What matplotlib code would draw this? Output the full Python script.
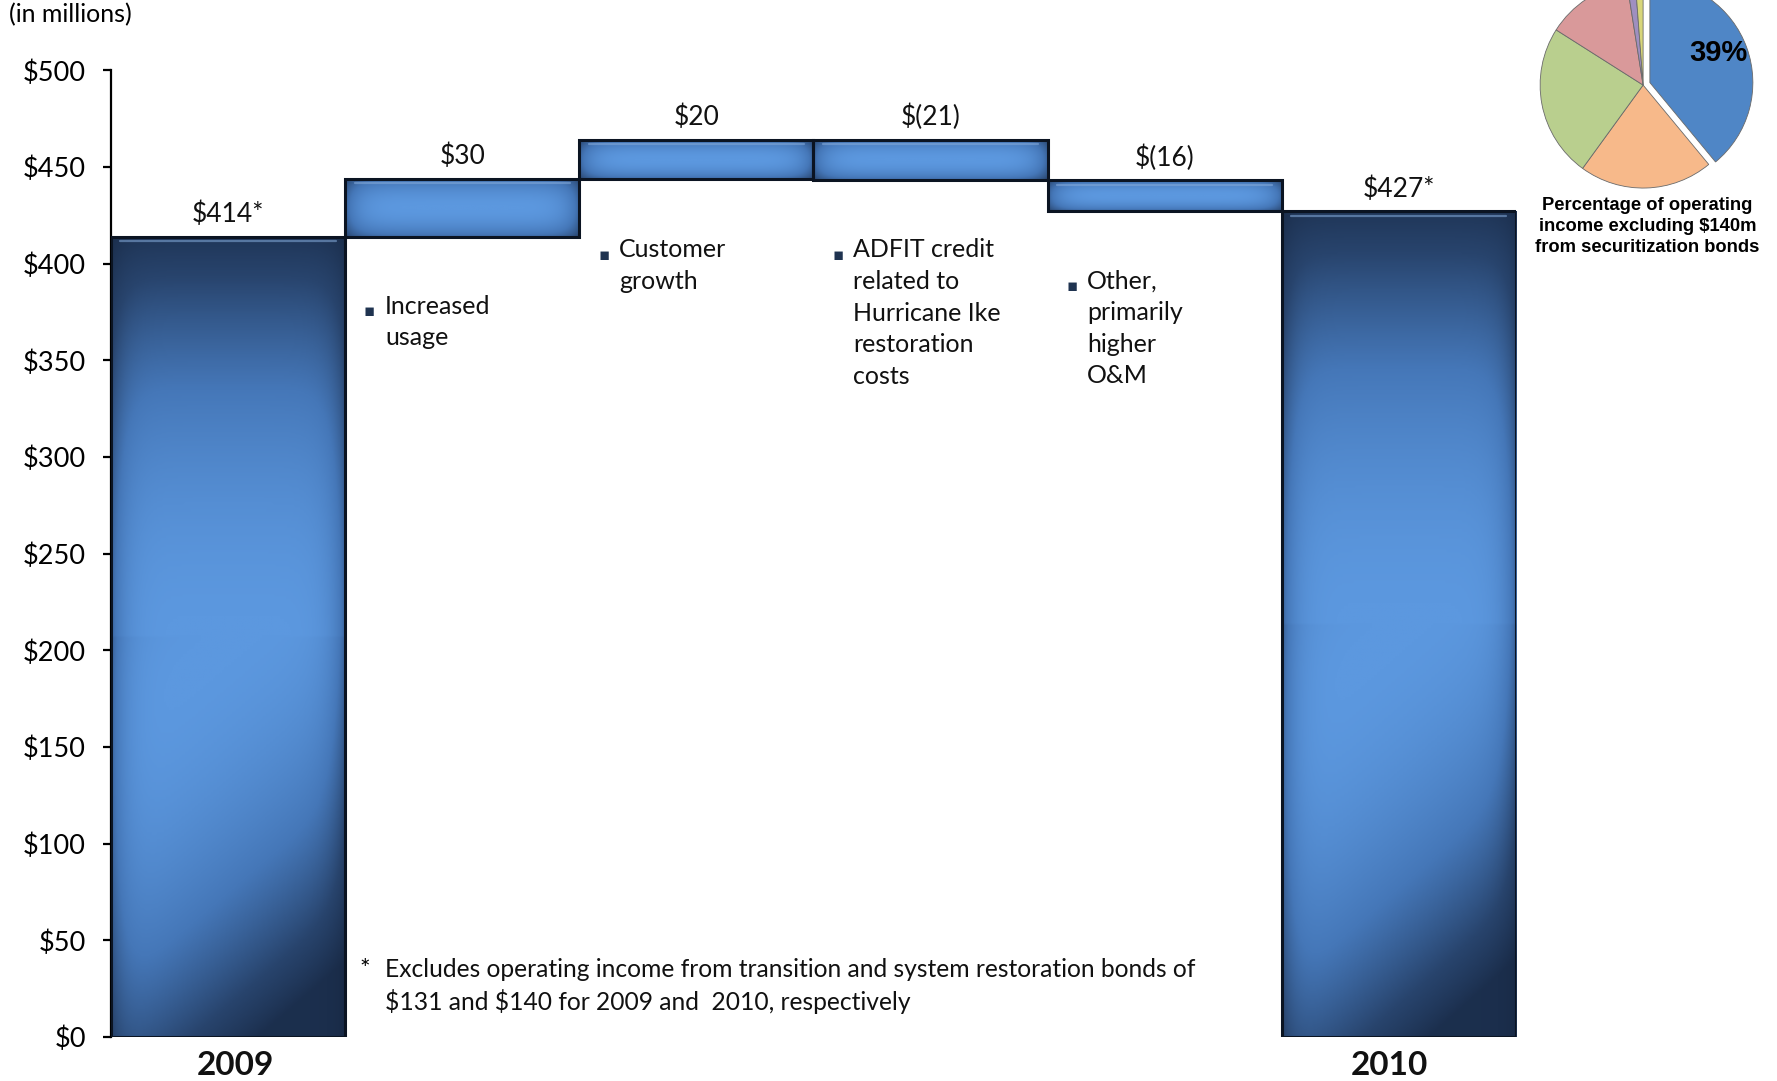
import matplotlib
matplotlib.use('Agg')
import matplotlib.pyplot as plt
import numpy as np
from matplotlib.colors import LinearSegmentedColormap

plt.rcParams['font.family'] = ['Lato', 'DejaVu Sans']

# waterfall data (in millions)
categories = ['2009', 'usage', 'growth', 'adfit', 'other', '2010']
deltas = [414, 30, 20, -21, -16, 427]
value_labels = ['\\$414*', '\\$30', '\\$20', '\\$(21)', '\\$(16)', '\\$427*']
year_labels = {0: '2009', 5: '2010'}
notes = {
    1: 'Increased\nusage',
    2: 'Customer\ngrowth',
    3: 'ADFIT credit\nrelated to\nHurricane Ike\nrestoration\ncosts',
    4: 'Other,\nprimarily\nhigher\nO&M',
}
note_tops = {1: 380, 2: 409, 3: 409, 4: 393}

# pie data
pie_shares = [39, 21, 24, 13.5, 1.3, 1.2]
pie_colors = ['#4f86c6', '#f7b98a', '#b9cf8e', '#d9999a', '#9f8fc0', '#d8d67a']

# compute bottoms / heights
bottoms, heights = [], []
running = 0
for i, d in enumerate(deltas):
    if i == 0 or i == len(deltas) - 1:
        bottoms.append(0)
        heights.append(d)
        running = d
    else:
        if d >= 0:
            bottoms.append(running)
        else:
            bottoms.append(running + d)
        heights.append(abs(d))
        running += d

fig = plt.figure(figsize=(17.77, 10.81), dpi=100)
ax = fig.add_axes([0.0625, 0.0407, 0.7905, 0.8943])

x = np.arange(len(categories))
bars = ax.bar(x, heights, bottom=bottoms, width=1.0, color='none',
              edgecolor='#0b1422', linewidth=2.2, zorder=3)

cmap = LinearSegmentedColormap.from_list(
    'bar', ['#15243d', '#28446d', '#4577b8', '#5c98df'])

for i, b in enumerate(bars):
    x0, y0 = b.get_x(), b.get_y()
    w, h = b.get_width(), b.get_height()
    big = i in (0, len(bars) - 1)
    xs = np.linspace(0, 1, 200)
    ys = np.linspace(0, 1, 300)
    X, Y = np.meshgrid(xs, ys)
    hor = 1 - 0.45 * np.abs(2 * X - 1) ** 8
    if big:
        # light band tilted: lower-left stays lighter, lower-right darker
        Yp = np.where(Y < 0.5, Y + 0.25 * (0.5 - X), Y)
        ver = 0.12 + 0.88 * np.sin(np.pi * np.clip(Yp * 0.95 + 0.03, 0, 1)) ** 0.9
    else:
        ver = 0.55 + 0.45 * np.sin(np.pi * Y) ** 0.7
    img = np.clip(hor * ver, 0, 1)
    im = ax.imshow(img, extent=(x0, x0 + w, y0, y0 + h), origin='lower',
                   cmap=cmap, vmin=0, vmax=1, aspect='auto', zorder=2,
                   interpolation='bilinear')
    im.set_clip_path(b)
    # thin bevel highlight under the top edge
    ax.plot([x0 + 0.04, x0 + w - 0.04], [y0 + h - 2.2, y0 + h - 2.2],
            color='#86acdc', lw=1.6, alpha=0.55, zorder=2.5,
            solid_capstyle='round')

for i, lab in enumerate(value_labels):
    top = bottoms[i] + heights[i]
    ax.text(x[i], top + 5, lab, ha='center', va='bottom', fontsize=19,
            color='#111111')

for i, txt in notes.items():
    ax.text(x[i] - 0.42, note_tops[i] - 4.5, '\u25aa', ha='left', va='center',
            fontsize=12, color='#1f3350', family=['DejaVu Sans'])
    ax.text(x[i] - 0.33, note_tops[i] + 4, txt, ha='left', va='top',
            fontsize=18, color='#111111', linespacing=1.45)

year_shift = {0: 0.03, 5: -0.04}
for i, yr in year_labels.items():
    ax.text(x[i] + year_shift[i], -7, yr, ha='center', va='top', fontsize=24,
            fontweight='bold', color='#111111')

ax.text(0.56, 35, '*', ha='left', va='center', fontsize=18)
ax.text(0.67, 26.5, 'Excludes operating income from transition and system restoration bonds of\n'
        '\\$131 and \\$140 for 2009 and  2010, respectively',
        ha='left', va='center', fontsize=17.7, color='#111111', linespacing=1.4)

ax.set_xlim(-0.5, 5.5)
ax.set_ylim(0, 500)
ax.set_yticks(np.arange(0, 501, 50))
ax.set_yticklabels(['\\$%d' % v for v in np.arange(0, 501, 50)], fontsize=19.5)
ax.set_xticks([])
for s in ['top', 'right', 'bottom']:
    ax.spines[s].set_visible(False)
ax.spines['left'].set_linewidth(1.6)
ax.tick_params(axis='y', length=6, width=1.6, pad=12)

fig.text(0.005, 0.986, '(in millions)', ha='left', va='center', fontsize=18)

# pie inset
pax = fig.add_axes([0.8667, 0.826, 0.1159, 0.1906])
wedges, _ = pax.pie(pie_shares, colors=pie_colors, startangle=90,
                    counterclock=False, explode=[0.07, 0, 0, 0, 0, 0],
                    wedgeprops=dict(edgecolor='#6a6a6a', linewidth=0.6))
for w in wedges:
    w.set_clip_on(False)
pax.set_xlim(-1, 1)
pax.set_ylim(-1, 1)
pax.set_aspect('equal')
pax.axis('off')
fig.text(0.967, 0.951, '39%', ha='center', va='center', fontsize=21,
         fontweight='bold', family=['Liberation Sans'])
fig.text(0.927, 0.818, 'Percentage of operating\nincome excluding \\$140m\nfrom securitization bonds',
         ha='center', va='top', fontsize=13.2, fontweight='bold',
         family=['Liberation Sans'], linespacing=1.3)

fig.savefig('out.png', dpi=100)
